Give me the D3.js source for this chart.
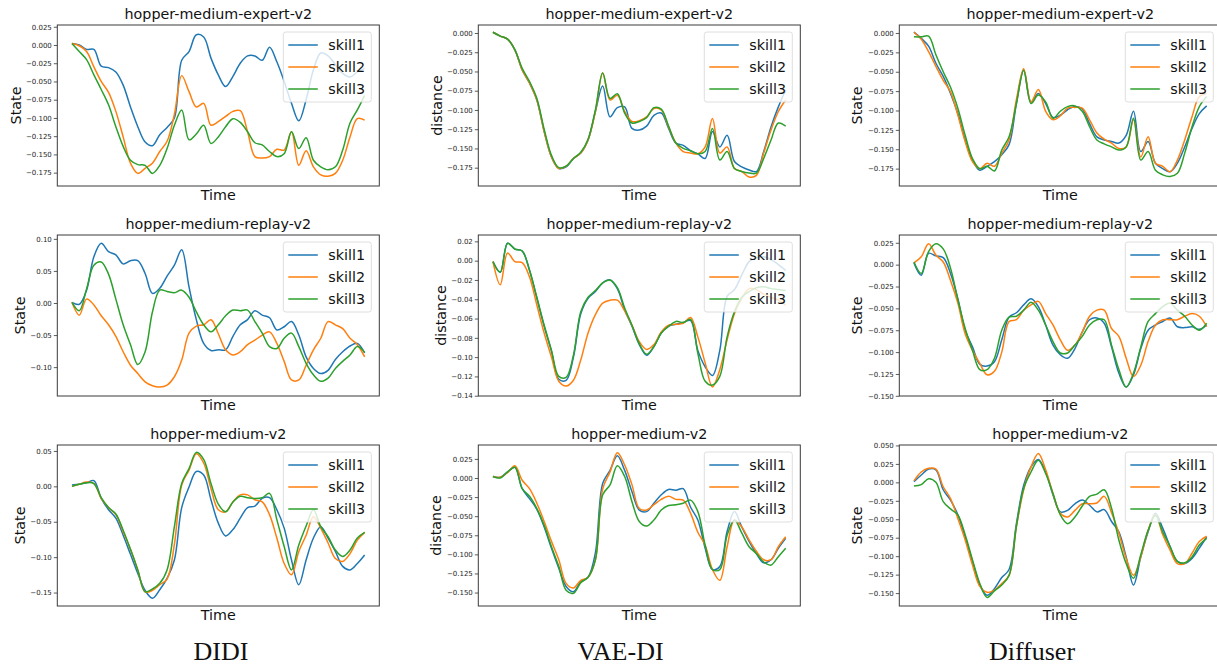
<!DOCTYPE html>
<html>
<head>
<meta charset="utf-8">
<script src="https://cdn.jsdelivr.net/npm/d3@7"></script>
<style>
  html, body { margin: 0; padding: 0; background: #fff; }
  svg { display: block; }
</style>
</head>
<body>
<svg id="chart" width="1217" height="666"></svg>
<script>
// ---------------- data ----------------
const time = d3.range(41);
const skills = ["skill1", "skill2", "skill3"];
const methods = ["DIDI", "VAE-DI", "Diffuser"];
const datasets = ["hopper-medium-expert-v2", "hopper-medium-replay-v2", "hopper-medium-v2"];
const yLabels = ["State", "distance", "State"];

// DIDI / medium-expert
const didiExpert1 = [0.002,0.000,-0.006,-0.006,-0.029,-0.031,-0.037,-0.055,-0.085,-0.112,-0.133,-0.138,-0.123,-0.113,-0.100,-0.021,-0.009,0.014,0.011,-0.018,-0.041,-0.057,-0.043,-0.025,-0.015,-0.015,-0.021,-0.003,-0.023,-0.050,-0.080,-0.104,-0.075,-0.034,-0.011,-0.015,-0.027,-0.039,-0.044,-0.037,-0.032];
const didiExpert2 = [0.002,-0.001,-0.009,-0.030,-0.050,-0.065,-0.091,-0.126,-0.162,-0.176,-0.169,-0.162,-0.146,-0.132,-0.095,-0.042,-0.064,-0.085,-0.080,-0.110,-0.105,-0.098,-0.091,-0.090,-0.119,-0.153,-0.155,-0.153,-0.143,-0.144,-0.119,-0.165,-0.145,-0.167,-0.178,-0.180,-0.176,-0.158,-0.126,-0.101,-0.103];
const didiExpert3 = [0.002,-0.009,-0.020,-0.041,-0.061,-0.082,-0.112,-0.139,-0.158,-0.164,-0.165,-0.176,-0.165,-0.142,-0.110,-0.089,-0.130,-0.122,-0.110,-0.135,-0.126,-0.112,-0.101,-0.106,-0.119,-0.134,-0.137,-0.146,-0.153,-0.149,-0.119,-0.142,-0.127,-0.158,-0.167,-0.171,-0.167,-0.144,-0.107,-0.089,-0.069];
// VAE-DI / medium-expert
const vaeExpert1 = [0.001,-0.004,-0.008,-0.022,-0.048,-0.065,-0.087,-0.128,-0.161,-0.176,-0.174,-0.163,-0.156,-0.139,-0.102,-0.069,-0.109,-0.097,-0.096,-0.124,-0.126,-0.121,-0.107,-0.104,-0.124,-0.143,-0.146,-0.153,-0.157,-0.163,-0.128,-0.148,-0.133,-0.167,-0.174,-0.178,-0.180,-0.154,-0.122,-0.096,-0.074];
const vaeExpert2 = [0.001,-0.004,-0.008,-0.022,-0.048,-0.065,-0.087,-0.128,-0.161,-0.176,-0.173,-0.163,-0.156,-0.139,-0.102,-0.052,-0.087,-0.081,-0.102,-0.115,-0.114,-0.109,-0.098,-0.100,-0.122,-0.143,-0.154,-0.156,-0.157,-0.148,-0.111,-0.156,-0.148,-0.176,-0.180,-0.187,-0.185,-0.156,-0.126,-0.102,-0.087];
const vaeExpert3 = [0.001,-0.004,-0.008,-0.022,-0.046,-0.063,-0.085,-0.125,-0.159,-0.175,-0.173,-0.163,-0.155,-0.138,-0.100,-0.052,-0.085,-0.079,-0.104,-0.117,-0.115,-0.110,-0.097,-0.099,-0.121,-0.143,-0.150,-0.153,-0.157,-0.154,-0.124,-0.165,-0.154,-0.176,-0.180,-0.182,-0.182,-0.163,-0.139,-0.117,-0.121];
// Diffuser / medium-expert
const diffExpert1 = [0.001,-0.007,-0.017,-0.039,-0.056,-0.078,-0.104,-0.138,-0.164,-0.177,-0.172,-0.166,-0.157,-0.144,-0.091,-0.048,-0.089,-0.078,-0.091,-0.109,-0.106,-0.099,-0.095,-0.098,-0.117,-0.134,-0.138,-0.140,-0.142,-0.132,-0.101,-0.153,-0.140,-0.168,-0.175,-0.179,-0.168,-0.147,-0.123,-0.104,-0.094];
const diffExpert2 = [0.001,-0.008,-0.024,-0.043,-0.061,-0.076,-0.106,-0.140,-0.166,-0.175,-0.168,-0.172,-0.155,-0.138,-0.086,-0.046,-0.089,-0.073,-0.101,-0.112,-0.107,-0.097,-0.096,-0.097,-0.112,-0.129,-0.137,-0.142,-0.149,-0.147,-0.112,-0.160,-0.134,-0.168,-0.172,-0.179,-0.164,-0.138,-0.108,-0.082,-0.078];
const diffExpert3 = [-0.005,-0.005,-0.004,-0.028,-0.050,-0.070,-0.097,-0.132,-0.162,-0.175,-0.172,-0.178,-0.151,-0.134,-0.091,-0.048,-0.091,-0.080,-0.089,-0.110,-0.101,-0.095,-0.094,-0.101,-0.121,-0.138,-0.143,-0.147,-0.151,-0.147,-0.110,-0.164,-0.153,-0.177,-0.183,-0.185,-0.181,-0.155,-0.121,-0.095,-0.082];
// DIDI / medium-replay
const didiReplay1 = [0.001,-0.002,0.020,0.072,0.093,0.080,0.075,0.061,0.066,0.066,0.046,0.015,0.023,0.042,0.059,0.083,0.025,-0.026,-0.063,-0.074,-0.073,-0.073,-0.052,-0.034,-0.026,-0.012,-0.019,-0.023,-0.042,-0.037,-0.029,-0.050,-0.084,-0.102,-0.110,-0.105,-0.088,-0.076,-0.067,-0.063,-0.078];
const didiReplay2 = [0.001,-0.019,0.006,-0.003,-0.020,-0.034,-0.052,-0.076,-0.097,-0.110,-0.123,-0.129,-0.131,-0.128,-0.115,-0.089,-0.047,-0.036,-0.034,-0.026,-0.048,-0.073,-0.081,-0.076,-0.065,-0.058,-0.050,-0.045,-0.063,-0.091,-0.120,-0.120,-0.097,-0.073,-0.055,-0.029,-0.034,-0.040,-0.055,-0.065,-0.084];
const didiReplay3 = [0.001,-0.012,0.022,0.059,0.064,0.045,0.006,-0.034,-0.065,-0.096,-0.076,-0.014,0.020,0.018,0.016,0.020,0.009,-0.014,-0.034,-0.045,-0.034,-0.020,-0.011,-0.012,-0.011,-0.029,-0.047,-0.068,-0.071,-0.055,-0.047,-0.068,-0.094,-0.112,-0.122,-0.117,-0.102,-0.091,-0.081,-0.068,-0.077];
// VAE-DI / medium-replay
const vaeReplay1 = [-0.001,-0.012,0.018,0.012,0.010,-0.010,-0.039,-0.068,-0.094,-0.123,-0.124,-0.100,-0.055,-0.039,-0.032,-0.023,-0.020,-0.029,-0.051,-0.068,-0.087,-0.098,-0.089,-0.075,-0.068,-0.066,-0.064,-0.062,-0.093,-0.110,-0.119,-0.093,-0.037,-0.030,-0.015,-0.001,0.003,0.004,0.001,-0.004,-0.010];
const vaeReplay2 = [-0.001,-0.025,0.008,-0.001,-0.002,-0.017,-0.046,-0.075,-0.100,-0.125,-0.130,-0.124,-0.103,-0.075,-0.056,-0.044,-0.041,-0.041,-0.052,-0.067,-0.084,-0.092,-0.087,-0.074,-0.067,-0.066,-0.065,-0.059,-0.079,-0.106,-0.131,-0.113,-0.082,-0.055,-0.039,-0.029,-0.030,-0.035,-0.038,-0.041,-0.046];
const vaeReplay3 = [-0.001,-0.012,0.018,0.012,0.010,-0.010,-0.038,-0.067,-0.093,-0.120,-0.121,-0.098,-0.053,-0.038,-0.031,-0.023,-0.020,-0.028,-0.049,-0.067,-0.086,-0.097,-0.089,-0.075,-0.068,-0.063,-0.064,-0.061,-0.096,-0.125,-0.129,-0.120,-0.079,-0.053,-0.038,-0.032,-0.028,-0.027,-0.029,-0.030,-0.031];
// Diffuser / medium-replay
const diffReplay1 = [0.002,-0.012,0.013,0.010,0.008,-0.010,-0.039,-0.075,-0.094,-0.114,-0.116,-0.111,-0.086,-0.060,-0.055,-0.046,-0.039,-0.048,-0.069,-0.092,-0.103,-0.107,-0.096,-0.077,-0.063,-0.061,-0.067,-0.094,-0.124,-0.140,-0.126,-0.096,-0.075,-0.069,-0.065,-0.061,-0.071,-0.072,-0.071,-0.074,-0.069];
const diffReplay2 = [0.002,0.009,0.024,0.011,0.003,-0.018,-0.044,-0.079,-0.098,-0.113,-0.126,-0.122,-0.100,-0.065,-0.063,-0.052,-0.046,-0.042,-0.056,-0.069,-0.086,-0.098,-0.092,-0.077,-0.059,-0.052,-0.052,-0.073,-0.082,-0.107,-0.128,-0.115,-0.088,-0.069,-0.063,-0.063,-0.063,-0.059,-0.056,-0.059,-0.071];
const diffReplay3 = [0.003,-0.010,0.015,0.024,0.018,-0.004,-0.040,-0.073,-0.098,-0.120,-0.120,-0.107,-0.075,-0.060,-0.059,-0.052,-0.043,-0.052,-0.069,-0.088,-0.101,-0.101,-0.092,-0.082,-0.069,-0.063,-0.063,-0.092,-0.120,-0.140,-0.124,-0.094,-0.065,-0.056,-0.048,-0.044,-0.052,-0.059,-0.069,-0.075,-0.067];
// DIDI / medium
const didiMedium1 = [0.002,0.003,0.005,0.008,-0.017,-0.033,-0.045,-0.069,-0.096,-0.123,-0.147,-0.158,-0.146,-0.130,-0.104,-0.030,-0.001,0.021,0.016,-0.019,-0.052,-0.070,-0.061,-0.045,-0.030,-0.028,-0.017,-0.016,-0.033,-0.059,-0.104,-0.139,-0.104,-0.073,-0.057,-0.073,-0.092,-0.113,-0.118,-0.109,-0.097];
const didiMedium2 = [0.000,0.003,0.006,0.004,-0.017,-0.030,-0.040,-0.064,-0.089,-0.118,-0.149,-0.147,-0.139,-0.131,-0.082,0.002,0.023,0.046,0.033,-0.003,-0.033,-0.036,-0.022,-0.012,-0.012,-0.019,-0.022,-0.040,-0.073,-0.109,-0.125,-0.092,-0.069,-0.043,-0.059,-0.080,-0.102,-0.106,-0.095,-0.076,-0.065];
const didiMedium3 = [0.000,0.003,0.005,0.004,-0.016,-0.030,-0.039,-0.062,-0.089,-0.118,-0.149,-0.145,-0.137,-0.118,-0.057,0.004,0.025,0.048,0.038,0.004,-0.025,-0.036,-0.022,-0.014,-0.016,-0.017,-0.016,-0.010,-0.047,-0.085,-0.118,-0.083,-0.056,-0.033,-0.057,-0.071,-0.090,-0.099,-0.090,-0.073,-0.065];
// VAE-DI / medium
const vaeMedium1 = [0.002,0.001,0.008,0.014,-0.014,-0.027,-0.041,-0.064,-0.092,-0.118,-0.142,-0.149,-0.136,-0.130,-0.098,-0.007,0.010,0.029,0.010,-0.018,-0.042,-0.044,-0.033,-0.022,-0.015,-0.016,-0.014,-0.038,-0.055,-0.092,-0.120,-0.116,-0.070,-0.044,-0.064,-0.083,-0.099,-0.111,-0.107,-0.092,-0.079];
const vaeMedium2 = [0.002,0.001,0.007,0.016,-0.003,-0.014,-0.033,-0.057,-0.083,-0.107,-0.138,-0.144,-0.134,-0.130,-0.107,-0.014,0.008,0.033,0.017,-0.009,-0.040,-0.042,-0.035,-0.028,-0.024,-0.028,-0.029,-0.046,-0.071,-0.088,-0.120,-0.134,-0.090,-0.055,-0.064,-0.081,-0.096,-0.107,-0.107,-0.090,-0.077];
const vaeMedium3 = [0.002,0.000,0.008,0.014,-0.014,-0.024,-0.040,-0.062,-0.090,-0.116,-0.147,-0.151,-0.137,-0.130,-0.107,-0.022,-0.009,0.016,0.002,-0.031,-0.057,-0.063,-0.055,-0.042,-0.036,-0.035,-0.033,-0.029,-0.044,-0.088,-0.120,-0.120,-0.075,-0.055,-0.072,-0.090,-0.099,-0.110,-0.114,-0.103,-0.092];
// Diffuser / medium
const diffMedium1 = [0.001,0.010,0.018,0.017,-0.010,-0.024,-0.044,-0.074,-0.107,-0.139,-0.153,-0.144,-0.129,-0.118,-0.056,-0.004,0.021,0.031,0.014,-0.017,-0.040,-0.038,-0.029,-0.024,-0.031,-0.040,-0.037,-0.053,-0.067,-0.101,-0.139,-0.101,-0.067,-0.042,-0.062,-0.087,-0.107,-0.110,-0.103,-0.089,-0.074];
const diffMedium2 = [0.002,0.014,0.019,0.018,-0.006,-0.022,-0.049,-0.078,-0.112,-0.141,-0.149,-0.146,-0.137,-0.126,-0.060,-0.010,0.021,0.039,0.017,-0.015,-0.042,-0.047,-0.038,-0.029,-0.029,-0.028,-0.019,-0.041,-0.069,-0.103,-0.126,-0.101,-0.065,-0.044,-0.071,-0.092,-0.110,-0.110,-0.096,-0.080,-0.073];
const diffMedium3 = [-0.005,-0.003,0.005,0.000,-0.026,-0.036,-0.044,-0.071,-0.105,-0.137,-0.156,-0.147,-0.139,-0.126,-0.060,-0.008,0.014,0.030,0.012,-0.015,-0.044,-0.056,-0.047,-0.032,-0.019,-0.016,-0.010,-0.035,-0.078,-0.110,-0.130,-0.098,-0.065,-0.045,-0.067,-0.087,-0.107,-0.109,-0.101,-0.085,-0.076];

// y-axis ticks per panel (row-major)
const yTicks = [
  [0.025,0,-0.025,-0.05,-0.075,-0.1,-0.125,-0.15,-0.175],
  [0,-0.025,-0.05,-0.075,-0.1,-0.125,-0.15,-0.175],
  [0,-0.025,-0.05,-0.075,-0.1,-0.125,-0.15,-0.175],
  [0.1,0.05,0,-0.05,-0.1],
  [0.02,0,-0.02,-0.04,-0.06,-0.08,-0.1,-0.12,-0.14],
  [0.025,0,-0.025,-0.05,-0.075,-0.1,-0.125,-0.15],
  [0.05,0,-0.05,-0.1,-0.15],
  [0.025,0,-0.025,-0.05,-0.075,-0.1,-0.125,-0.15],
  [0.05,0.025,0,-0.025,-0.05,-0.075,-0.1,-0.125,-0.15]
];
const yTickFormats = [".3f",".3f",".3f",".2f",".2f",".3f",".2f",".3f",".3f"];
const yDomains = [
  [-0.1933,0.0274],[-0.1988,0.0104],[-0.1974,0.0103],
  [-0.145,0.106],[-0.1403,0.0266],[-0.1502,0.0339],
  [-0.169,0.0584],[-0.1676,0.0432],[-0.1675,0.0506]
];
const seriesByPanel = [
  [didiExpert1,didiExpert2,didiExpert3],[vaeExpert1,vaeExpert2,vaeExpert3],[diffExpert1,diffExpert2,diffExpert3],
  [didiReplay1,didiReplay2,didiReplay3],[vaeReplay1,vaeReplay2,vaeReplay3],[diffReplay1,diffReplay2,diffReplay3],
  [didiMedium1,didiMedium2,didiMedium3],[vaeMedium1,vaeMedium2,vaeMedium3],[diffMedium1,diffMedium2,diffMedium3]
];

// ---------------- layout / style ----------------
const colors = ["#1f77b4", "#ff7f0e", "#2ca02c"];
const colLeft = [57.3, 478.3, 899.3];
const rowTop = [25, 235, 445];
const plotW = 322, plotH = 161;
const yLabelX = [20.5, 441.5, 862, 25, 446, 862, 25, 441, 862];
const sansFont = "'DejaVu Sans', sans-serif";

const svg = d3.select("#chart");

for (let p = 0; p < 9; p++) {
  const row = Math.floor(p / 3), col = p % 3;
  const L = colLeft[col], T = rowTop[row];
  const x = d3.scaleLinear().domain([-2, 42]).range([L, L + plotW]);
  const y = d3.scaleLinear().domain(yDomains[p]).range([T + plotH, T]);
  const g = svg.append("g");

  // y axis ticks
  const fmt = d3.format(yTickFormats[p]);
  const yAxis = d3.axisLeft(y).tickValues(yTicks[p]).tickFormat(fmt).tickSize(3.5).tickPadding(2);
  const ag = g.append("g").attr("transform", `translate(${L},0)`).call(yAxis);
  ag.select(".domain").remove();
  ag.selectAll(".tick line").attr("stroke", "#333").attr("stroke-width", 0.8);
  ag.selectAll(".tick text").attr("fill", "#262626").style("font-family", sansFont).style("font-size", "7px");

  // lines
  const line = d3.line().x((d, i) => x(time[i])).y(d => y(d)).curve(d3.curveCatmullRom.alpha(0.5));
  seriesByPanel[p].forEach((s, k) => {
    g.append("path").datum(s).attr("d", line)
      .attr("fill", "none").attr("stroke", colors[k]).attr("stroke-width", 1.5)
      .attr("stroke-linejoin", "round");
  });

  // frame
  g.append("rect").attr("x", L).attr("y", T).attr("width", plotW).attr("height", plotH)
    .attr("fill", "none").attr("stroke", "#3a3a3a").attr("stroke-width", 1);

  // title
  g.append("text").attr("x", L + plotW / 2).attr("y", T - 6).attr("text-anchor", "middle")
    .style("font-family", sansFont).style("font-size", "14.3px").attr("fill", "#111")
    .text(datasets[row]);
  // x label
  g.append("text").attr("x", L + plotW / 2).attr("y", T + plotH + 13.5).attr("text-anchor", "middle")
    .style("font-family", sansFont).style("font-size", "14.3px").attr("fill", "#111")
    .text("Time");
  // y label
  g.append("text").attr("transform", `translate(${yLabelX[p]},${T + plotH / 2}) rotate(-90)`)
    .attr("text-anchor", "middle")
    .style("font-family", sansFont).style("font-size", "14.3px").attr("fill", "#111")
    .text(yLabels[col]);

  // legend
  const lgW = 88, lgH = 70;
  const lx = L + plotW - 8 - lgW, ly = T + 7;
  const lg = g.append("g").attr("transform", `translate(${lx},${ly})`);
  lg.append("rect").attr("width", lgW).attr("height", lgH).attr("rx", 2.5)
    .attr("fill", "rgba(255,255,255,0.8)").attr("stroke", "#d6d6d6").attr("stroke-width", 0.8);
  skills.forEach((s, k) => {
    const cy = 13 + k * 22;
    lg.append("line").attr("x1", 5).attr("x2", 34.5).attr("y1", cy).attr("y2", cy)
      .attr("stroke", colors[k]).attr("stroke-width", 1.5);
    lg.append("text").attr("x", 45).attr("y", cy + 5)
      .style("font-family", sansFont).style("font-size", "14.3px").attr("fill", "#111")
      .text(s);
  });
}

// method labels
methods.forEach((m, c) => {
  svg.append("text").attr("x", [221, 620.5, 1032][c]).attr("y", 660).attr("text-anchor", "middle")
    .style("font-family", "'Liberation Serif', 'Times New Roman', serif").style("font-size", "26px")
    .attr("fill", "#111").text(m);
});
</script>
</body>
</html>
